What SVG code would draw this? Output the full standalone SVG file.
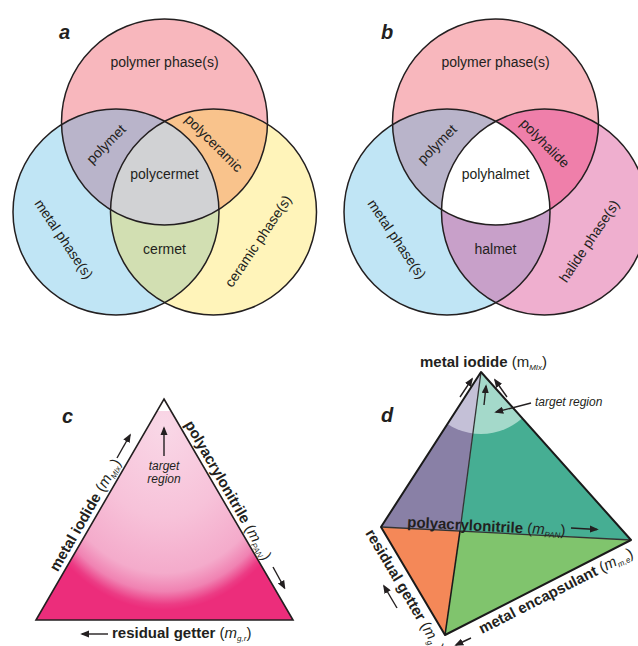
<svg xmlns="http://www.w3.org/2000/svg" width="638" height="646" viewBox="0 0 638 646">
<style>
text{font-family:"Liberation Sans",Arial,sans-serif;fill:#231F20}
.lbl{font-size:14px}
.pl{font-size:20px;font-weight:bold;font-style:italic}
.b{font-size:15px;font-weight:bold}
.rg{font-weight:normal}
.it{font-style:italic}
.sub{font-size:8px;font-style:italic}
.ti{font-size:12px;font-style:italic}
.ring{fill:none;stroke:#231F20;stroke-width:1.5}
.arr{stroke:#231F20;stroke-width:1.4;fill:none;marker-end:url(#ah)}
.edge{stroke:#1a1a1a;stroke-width:2;fill:none;stroke-linejoin:round}
</style>
<defs>
<marker id="ah" viewBox="0 0 10 8" refX="8" refY="4" markerWidth="9" markerHeight="7.5" markerUnits="userSpaceOnUse" orient="auto"><path d="M0,0 L10,4 L0,8 z" fill="#231F20"/></marker>
<clipPath id="cTa"><circle cx="164.5" cy="122" r="103"/></clipPath>
<clipPath id="cLa"><circle cx="116" cy="212" r="103"/></clipPath>
<clipPath id="cTb"><circle cx="495.5" cy="122" r="103"/></clipPath>
<clipPath id="cLb"><circle cx="447" cy="212" r="103"/></clipPath>
<clipPath id="cTop"><circle cx="481" cy="372" r="62"/></clipPath>
<radialGradient id="gc" gradientUnits="userSpaceOnUse" cx="164" cy="425" r="185" gradientTransform="translate(164 425) scale(0.8 1) translate(-164 -425)">
<stop offset="0" stop-color="#F9D8E7"/>
<stop offset="0.5" stop-color="#F7C2D9"/>
<stop offset="0.8" stop-color="#F4ABCB"/>
<stop offset="0.9" stop-color="#F082B2"/>
<stop offset="0.97" stop-color="#EC3C85"/>
<stop offset="1" stop-color="#EC2D7B"/>
</radialGradient>
</defs>

<!-- panel a -->
<g id="panel-a">
<text class="pl" x="59" y="39">a</text>
<g id="a-polymer"><circle cx="164.5" cy="122" r="103" fill="#F8B7BD"/></g>
<g id="a-metal"><circle cx="116" cy="212" r="103" fill="#C0E5F5"/></g>
<g id="a-ceramic"><circle cx="213.5" cy="212" r="103" fill="#FFF4BA"/></g>
<g id="a-polymet"><circle cx="116" cy="212" r="103" fill="#B9B4CA" clip-path="url(#cTa)"/></g>
<g id="a-polyceramic"><circle cx="213.5" cy="212" r="103" fill="#F9C38C" clip-path="url(#cTa)"/></g>
<g id="a-cermet"><circle cx="213.5" cy="212" r="103" fill="#D2DFB2" clip-path="url(#cLa)"/></g>
<g id="a-polycermet" clip-path="url(#cTa)"><circle cx="213.5" cy="212" r="103" fill="#D1D2D4" clip-path="url(#cLa)"/></g>
<circle class="ring" cx="164.5" cy="122" r="103"/>
<circle class="ring" cx="116" cy="212" r="103"/>
<circle class="ring" cx="213.5" cy="212" r="103"/>
<text class="lbl" x="164.5" y="67" text-anchor="middle">polymer phase(s)</text>
<text class="lbl" transform="translate(106 144) rotate(-45)" y="5" text-anchor="middle">polymet</text>
<text class="lbl" transform="translate(214 143) rotate(45)" y="5" text-anchor="middle">polyceramic</text>
<text class="lbl" x="164.5" y="179" text-anchor="middle">polycermet</text>
<text class="lbl" x="164.5" y="254" text-anchor="middle">cermet</text>
<text class="lbl" transform="translate(64 239) rotate(56)" y="5" text-anchor="middle">metal phase(s)</text>
<text class="lbl" transform="translate(258 241) rotate(-56)" y="5" text-anchor="middle">ceramic phase(s)</text>
</g>

<!-- panel b -->
<g id="panel-b">
<text class="pl" x="381" y="39">b</text>
<g id="b-polymer"><circle cx="495.5" cy="122" r="103" fill="#F8B7BD"/></g>
<g id="b-metal"><circle cx="447" cy="212" r="103" fill="#C0E5F5"/></g>
<g id="b-halide"><circle cx="544.5" cy="212" r="103" fill="#EFAFCF"/></g>
<g id="b-polymet"><circle cx="447" cy="212" r="103" fill="#B9B4CA" clip-path="url(#cTb)"/></g>
<g id="b-polyhalide"><circle cx="544.5" cy="212" r="103" fill="#EF7FAA" clip-path="url(#cTb)"/></g>
<g id="b-halmet"><circle cx="544.5" cy="212" r="103" fill="#C8A0C9" clip-path="url(#cLb)"/></g>
<g id="b-polyhalmet" clip-path="url(#cTb)"><circle cx="544.5" cy="212" r="103" fill="#FFFFFF" clip-path="url(#cLb)"/></g>
<circle class="ring" cx="495.5" cy="122" r="103"/>
<circle class="ring" cx="447" cy="212" r="103"/>
<circle class="ring" cx="544.5" cy="212" r="103"/>
<text class="lbl" x="495.5" y="67" text-anchor="middle">polymer phase(s)</text>
<text class="lbl" transform="translate(437 144) rotate(-45)" y="5" text-anchor="middle">polymet</text>
<text class="lbl" transform="translate(545 143) rotate(45)" y="5" text-anchor="middle">polyhalide</text>
<text class="lbl" x="495.5" y="179" text-anchor="middle">polyhalmet</text>
<text class="lbl" x="495.5" y="254" text-anchor="middle">halmet</text>
<text class="lbl" transform="translate(397 239) rotate(56)" y="5" text-anchor="middle">metal phase(s)</text>
<text class="lbl" transform="translate(589 241) rotate(-56)" y="5" text-anchor="middle">halide phase(s)</text>
</g>

<!-- panel c -->
<g id="panel-c">
<text class="pl" x="62" y="423">c</text>
<polygon points="157.1,411 170.9,411 293,620 36,620" fill="url(#gc)"/>
<polygon points="164,399 293,620 36,620" fill="none" stroke="#231F20" stroke-width="1.6" stroke-linejoin="miter"/>
<g id="c-connectors">
<line class="arr" x1="164" y1="456" x2="164" y2="428"/>
<line class="arr" x1="117" y1="458" x2="130" y2="435"/>
<line class="arr" x1="273" y1="567" x2="284.5" y2="588"/>
<line class="arr" x1="108" y1="634" x2="82" y2="634"/>
</g>
<text class="ti" x="164" y="470" text-anchor="middle">target</text>
<text class="ti" x="164" y="483" text-anchor="middle">region</text>
<text class="b" transform="translate(57.7 572.5) rotate(-60)">metal iodide <tspan class="rg">(<tspan class="it">m</tspan><tspan class="sub" dy="3">MIx</tspan><tspan dy="-3">)</tspan></tspan></text>
<text class="b" transform="translate(184.3 424.2) rotate(60)">polyacrylonitrile <tspan class="rg">(<tspan class="it">m</tspan><tspan class="sub" dy="3" font-style="normal">PAN</tspan><tspan dy="-3">)</tspan></tspan></text>
<text class="b" x="112" y="638">residual getter <tspan class="rg">(<tspan class="it">m</tspan><tspan class="sub" dy="3">g,r</tspan><tspan dy="-3">)</tspan></tspan></text>
</g>

<!-- panel d -->
<g id="panel-d">
<text class="pl" x="381" y="422">d</text>
<g id="d-faces">
<polygon id="d-face-purple" points="481,372 381,527 460,531" fill="#8980A6"/>
<polygon id="d-face-teal" points="481,372 460,531 631,540" fill="#46AE93"/>
<polygon points="481,372 381,527 460,531" fill="#C4C0D7" clip-path="url(#cTop)"/>
<polygon points="481,372 460,531 631,540" fill="#A4D9CA" clip-path="url(#cTop)"/>
<polygon id="d-face-orange" points="381,527 460,531 445,635" fill="#F48858"/>
<polygon id="d-face-green" points="460,531 631,540 445,635" fill="#80C46D"/>
</g>
<g id="d-edges">
<line x1="481" y1="372" x2="460" y2="531" stroke="#333" stroke-width="1.3"/>
<line x1="381" y1="527" x2="631" y2="540" stroke="#333" stroke-width="1.3"/>
<line x1="460" y1="531" x2="445" y2="635" stroke="#1a1a1a" stroke-width="1.6"/>
<polygon class="edge" points="481,372 631,540 445,635 381,527"/>
</g>
<g id="d-connectors">
<line class="arr" x1="460" y1="397" x2="472" y2="379"/>
<line class="arr" x1="484" y1="405" x2="486" y2="386"/>
<line class="arr" x1="507" y1="397" x2="495" y2="380"/>
<line class="arr" x1="531" y1="403" x2="496" y2="412"/>
<line class="arr" x1="571" y1="528" x2="597" y2="529.5"/>
<line class="arr" x1="397" y1="608" x2="384" y2="586"/>
<line class="arr" x1="471" y1="638" x2="456" y2="645"/>
</g>
<text class="b" x="420" y="367">metal iodide <tspan class="rg">(m<tspan class="sub" dy="3">MIx</tspan><tspan dy="-3">)</tspan></tspan></text>
<text class="ti" x="535" y="406">target region</text>
<text class="b" transform="translate(407 527) rotate(3)">polyacrylonitrile <tspan class="rg">(<tspan class="it">m</tspan><tspan class="sub" dy="3" font-style="normal">PAN</tspan><tspan dy="-3">)</tspan></tspan></text>
<text class="b" transform="translate(365 533) rotate(59.3)">residual getter <tspan class="rg">(<tspan class="it">m</tspan><tspan class="sub" dy="3">g,r</tspan><tspan dy="-3">)</tspan></tspan></text>
<text class="b" transform="translate(482 634) rotate(-27)">metal encapsulant <tspan class="rg">(<tspan class="it">m</tspan><tspan class="sub" dy="3" font-style="normal">m,e</tspan><tspan dy="-3">)</tspan></tspan></text>
</g>
</svg>
